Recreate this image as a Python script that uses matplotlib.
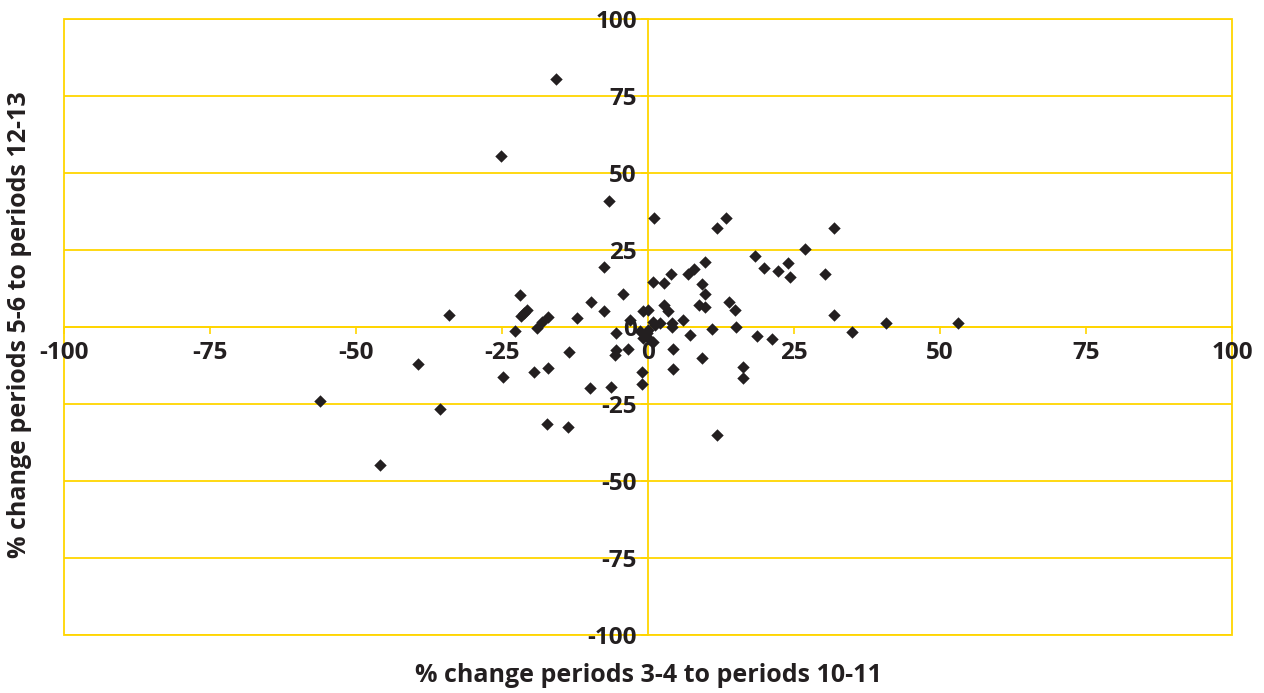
import matplotlib
matplotlib.use("Agg")
import matplotlib.pyplot as plt
from matplotlib.patches import Rectangle

# Data
x_change = [-15.8, -25.2, -6.7, 1.0, 13.4, 11.8, 31.8, 26.8, 18.3, 24.0,
            19.9, 22.3, 24.4, 30.3, 31.8, 35.0, 40.8, 53.0, 9.8, 7.8,
            6.9, 3.9, 0.9, 2.7, 9.2, 9.8, 8.8, 9.8, 13.8, 14.9,
            2.7, 3.5, 6.0, 4.1, 4.1, 2.1, 0.9, 1.2, 10.9, 15.1,
            7.2, 18.7, 21.2, 4.3, 9.3, 4.3, 16.3, 16.3, 11.8, -7.5,
            -21.9, -4.2, -9.7, -7.6, -20.8, -21.7, -21.2, -17.1, -18.2, -19.0,
            -12.1, -22.7, -3.1, -0.8, 0.05, -5.4, -1.4, 0.0, -0.8, 0.3,
            0.9, -3.4, -5.4, -5.7, -13.6, -24.8, -19.5, -17.1, -1.1, -1.0,
            -10.0, -6.4, -17.3, -13.7, -34.1, -39.3, -56.1, -35.7, -45.9, -0.2]
y_change = [80.6, 55.6, 41.1, 35.4, 35.4, 32.3, 32.1, 25.5, 23.1, 21.0,
            19.2, 18.2, 16.2, 17.2, 4.1, -1.7, 1.5, 1.3, 21.2, 18.8,
            17.3, 17.3, 14.6, 14.5, 14.1, 10.7, 7.1, 6.4, 8.1, 5.6,
            7.2, 5.4, 2.4, 1.3, 0.2, 1.3, 1.8, 0.7, -0.6, -0.1,
            -2.7, -2.8, -3.7, -7.1, -10.0, -13.6, -12.8, -16.4, -35.0, 19.4,
            10.4, 10.9, 8.2, 5.2, 5.6, 3.7, 4.6, 3.2, 1.8, -0.3,
            3.1, -1.2, 2.4, 5.4, 5.6, -2.0, -1.4, -0.9, -3.6, -4.1,
            -4.7, -7.1, -7.4, -9.0, -8.2, -16.2, -14.6, -13.4, -14.6, -18.5,
            -19.9, -19.3, -31.4, -32.3, 3.9, -11.9, -23.9, -26.7, -44.7, -2.0]
tick_values = [-100, -75, -50, -25, 0, 25, 50, 75, 100]
x_title = "% change periods 3-4 to periods 10-11"
y_title = "% change periods 5-6 to periods 12-13"

YELLOW = "#FFD500"
DARK = "#231F20"
FONT = "Open Sans"

fig = plt.figure(figsize=(12.64, 6.93), dpi=100)
ax = fig.add_axes([64 / 1264, (693 - 635) / 693, (1232 - 64) / 1264, (635 - 19.3) / 693])
ax.set_xlim(-100, 100)
ax.set_ylim(-100, 100)

# horizontal gridlines
for t in tick_values:
    ax.axhline(t, color=YELLOW, lw=1.3, zorder=1)

ax.add_patch(Rectangle((0, 0), 1, 1, transform=ax.transAxes, fill=False,
                       edgecolor=YELLOW, lw=1.3, zorder=1, clip_on=False))

for s in ["top", "right"]:
    ax.spines[s].set_visible(False)
ax.spines["left"].set_position("zero")
ax.spines["bottom"].set_position("zero")
for s in ["left", "bottom"]:
    ax.spines[s].set_color(YELLOW)
    ax.spines[s].set_linewidth(1.3)
    ax.spines[s].set_zorder(1)

ax.set_xticks(tick_values)
ax.set_yticks(tick_values)
ax.set_xticklabels([str(t) for t in tick_values])
ax.set_yticklabels([str(t) for t in tick_values])
ax.tick_params(axis="x", direction="out", length=5, width=1.2, color=YELLOW,
               pad=5, labelsize=17.5, labelcolor=DARK)
ax.tick_params(axis="y", direction="out", length=5, width=1.2, color=YELLOW,
               pad=3, labelsize=17.5, labelcolor=DARK)
for lab in ax.get_xticklabels() + ax.get_yticklabels():
    lab.set_fontfamily(FONT)
    lab.set_fontweight("bold")

ax.scatter(x_change, y_change, marker="D", s=40, color=DARK, zorder=3,
           linewidths=0, clip_on=False)

fig.text(648 / 1264, 1 - 675 / 693, x_title, ha="center", va="center",
         fontsize=18, fontweight="bold", color=DARK, family=FONT)
fig.text(20 / 1264, 1 - 325 / 693, y_title, ha="center", va="center",
         rotation=90, fontsize=18, fontweight="bold", color=DARK, family=FONT)

fig.savefig("out.png", dpi=100, facecolor="white")
